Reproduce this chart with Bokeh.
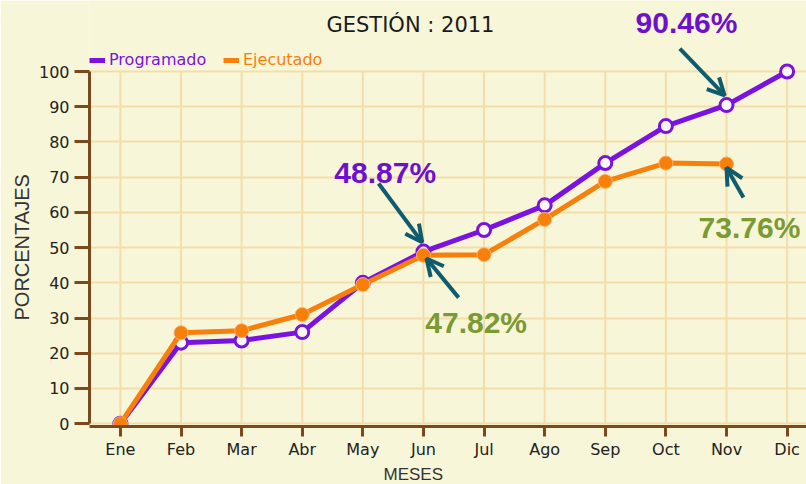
import math
from bokeh.plotting import figure
from bokeh.models import (Range1d, FixedTicker, Legend, LegendItem, Label, Arrow, OpenHead, Title)
from bokeh.embed import file_html
from bokeh.resources import INLINE

# ---- data ----
months = ["Ene", "Feb", "Mar", "Abr", "May", "Jun", "Jul", "Ago", "Sep", "Oct", "Nov", "Dic"]
programado = [0, 23.0, 23.6, 26.0, 40.0, 48.87, 55.0, 62.0, 74.0, 84.5, 90.46, 100]
ejecutado = [0, 25.8, 26.4, 31.0, 39.5, 47.82, 48.0, 58.0, 68.8, 74.0, 73.76]
y_ticks = list(range(0, 101, 10))
title_text = "GESTIÓN : 2011"
x_label = "MESES"
y_label = "PORCENTAJES"
note_texts = ["48.87%", "47.82%", "90.46%", "73.76%"]

# ---- style ----
BG = "#f8f6d8"
GRID = "#f3ddaa"
BROWN = "#7a4a1e"
PURPLE = "#7b12e4"
ORANGE = "#f77f0a"
TXT_PURPLE = "#6e10d0"
TXT_GREEN = "#7a9a33"
TEAL = "#0e5c6e"

xs_p = list(range(len(programado)))
xs_e = list(range(len(ejecutado)))

p = figure(width=806, height=484, output_backend="svg", toolbar_location=None,
           x_range=Range1d(-0.51, 11.32), y_range=Range1d(-0.8, 120.17),
           min_border_left=89, min_border_right=0, min_border_top=0, min_border_bottom=58)
p.background_fill_color = BG
p.border_fill_color = BG
p.outline_line_color = None

# grid
p.xgrid.grid_line_color = None
p.ygrid.grid_line_color = GRID
p.ygrid.grid_line_width = 2
p.segment(x0=xs_p, y0=[0] * len(xs_p), x1=xs_p, y1=[100] * len(xs_p),
          line_color=GRID, line_width=2, level="underlay")

# axes
p.xaxis.ticker = FixedTicker(ticks=xs_p)
p.xaxis.major_label_overrides = {i: m for i, m in enumerate(months)}
p.yaxis.ticker = FixedTicker(ticks=y_ticks)
p.yaxis.bounds = (0, 100)
for ax in (p.xaxis, p.yaxis):
    ax.axis_line_color = BROWN
    ax.axis_line_width = 3
    ax.major_tick_line_color = BROWN
    ax.major_tick_line_width = 3
    ax.major_tick_in = 0
    ax.minor_tick_line_color = None
    ax.major_label_text_font = "DejaVu Sans"
    ax.major_label_text_font_size = "16px"
    ax.major_label_text_color = "#222222"
    ax.major_label_standoff = 5
p.xaxis.major_tick_out = 10
p.xaxis.major_label_standoff = 3
p.yaxis.major_tick_out = 15

p.add_layout(Title(text=y_label, align="left", offset=106, text_font="Liberation Sans",
                   text_font_size="20px", text_font_style="normal", text_color="#333333",
                   standoff=6), "left")
p.add_layout(Title(text=x_label, align="left", offset=294, text_font="Liberation Sans",
                   text_font_size="17px", text_font_style="normal", text_color="#333333",
                   standoff=2), "below")

# series
lp = p.line(xs_p, programado, line_color=PURPLE, line_width=5)
p.scatter(xs_p, programado, size=13, marker="circle", fill_color="#fbf9ee",
          line_color=PURPLE, line_width=3)
le = p.line(xs_e, ejecutado, line_color=ORANGE, line_width=5)
p.scatter(xs_e, ejecutado, size=14, marker="circle", fill_color=ORANGE,
          line_color="#f9b26a", line_width=1)

# legends
for item_label, rend, col, loc in [("Programado", lp, PURPLE, (0, 357)),
                                   ("Ejecutado", le, ORANGE, (134, 357))]:
    lg = Legend(items=[LegendItem(label=item_label, renderers=[rend])], location=loc,
                orientation="horizontal", background_fill_alpha=0, border_line_alpha=0,
                label_text_color=col, label_text_font="DejaVu Sans", label_text_font_size="16px",
                glyph_width=16, glyph_height=8, padding=0, margin=0, label_standoff=4,
                spacing=0)
    p.add_layout(lg)

# title
p.add_layout(Label(x=3.40, y=113.1, text=title_text, text_font="DejaVu Sans",
                   text_font_size="21px", text_color="#1a1a1a", text_baseline="alphabetic"))

# annotations
notes = [(note_texts[0], 3.53, 71.4, TXT_PURPLE),
         (note_texts[1], 5.03, 28.7, TXT_GREEN),
         (note_texts[2], 8.50, 114.0, TXT_PURPLE),
         (note_texts[3], 9.54, 55.7, TXT_GREEN)]
for t, x, y, c in notes:
    p.add_layout(Label(x=x, y=y, text=t, text_font="Liberation Sans", text_font_style="bold",
                       text_font_size="30px", text_color=c, text_baseline="alphabetic"))

arrows = [(4.26, 68.2, 4.98, 51.5),
          (5.58, 35.8, 5.05, 46.9),
          (9.23, 106.5, 9.97, 93.2),
          (10.28, 64.2, 10.0, 72.7)]
for x0, y0, x1, y1 in arrows:
    p.add_layout(Arrow(end=OpenHead(size=17, line_color=TEAL, line_width=4),
                       x_start=x0, y_start=y0, x_end=x1, y_end=y1,
                       line_color=TEAL, line_width=4))

open("out.html", "w").write(file_html(p, INLINE))
